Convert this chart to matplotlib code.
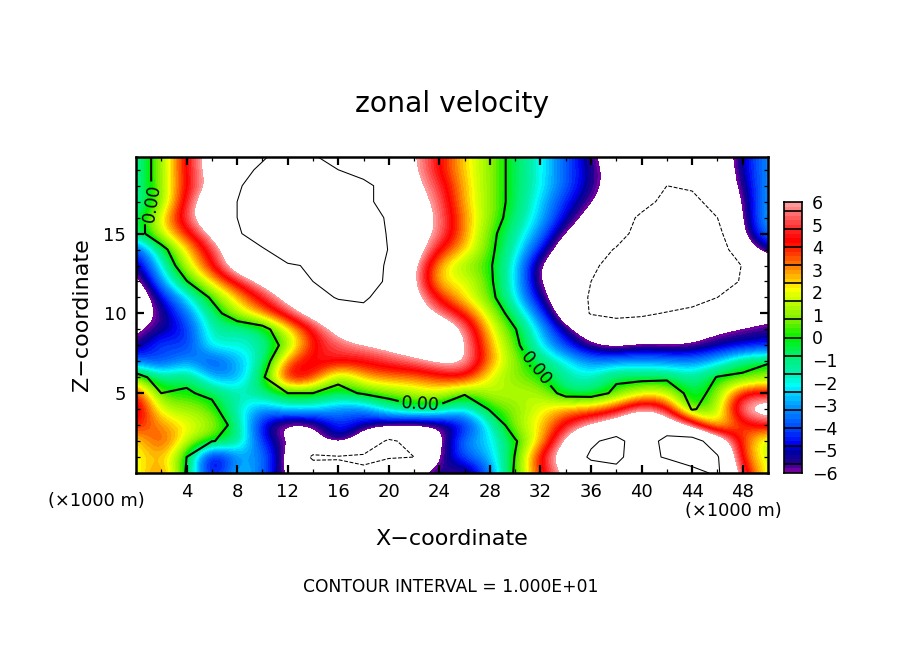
import numpy as np
import matplotlib
matplotlib.use("Agg")
import matplotlib.pyplot as plt
from matplotlib.colors import LinearSegmentedColormap, Normalize

x_km = [0, 2, 4, 6, 8, 10, 12, 14, 16, 18, 20, 22, 24, 26, 28, 30, 32, 34, 36, 38, 40, 42, 44, 46, 48, 50]
z_km = list(range(21))

z00 = [1.6, 3.8, -0.2, -5.6, -2, -3.5, -6.5, -8, -8.5, -9.5, -8, -6.3, -5, -6.4, -3.5, 0.3, 4, 6.5, 8, 9, 7, 5, 9, 10.5, 5, 1.5]
z01 = [1.8, 3, 0, -6.4, -3, -3, -6.5, -10.5, -10.3, -10.5, -10.2, -10, -5.8, -3.8, -2.8, 0.1, 4.6, 7.5, 10.5, 10.8, 8, 10.6, 11.5, 10.3, 3.5, 1.5]
z02 = [2, 4.2, 1.6, 0.1, -0.7, -4.5, -6, -7, -4.5, -7.5, -10.5, -9, -6.5, -3, -2.5, -0.2, 2.4, 6.5, 9.5, 11, 8, 11, 11.5, 8, 3.7, 1]
z03 = [4.2, 3, 2.2, 1.4, -0.8, -5, -7, -6.5, -4, -5.2, -5.8, -6.5, -6.2, -4.8, -2, 1.3, 2.3, 4.6, 6.2, 7.5, 9, 8, 5.3, 1.5, 3.8, 4.6]
z04 = [5.5, 1.5, 1.2, 0.6, -1.8, -3.4, -2, -2.2, -3.3, -3.5, -1.5, -0.5, -0.8, -2.6, 0.2, 0.8, 2, 3, 3, 4, 6.3, 4.8, -0.2, 1, 6.5, 7.5]
z05 = [4.5, 0, 0.2, -0.4, -1.6, -1, 0, 0, -0.6, 0.2, 0.8, 1.3, 2, 0.3, 1.6, 1.5, 1.5, -0.8, -0.9, 0.4, 1.8, 2, -1, 0.8, 4.6, 4.5]
z06 = [1.2, -1.5, -0.4, -3, -3.2, -0.5, 5.3, 4.3, 0.5, 2.8, 3.2, 3.2, 3.8, 4.4, 1.8, 0.8, 0.2, -1.5, -1.9, -0.3, -0.6, -0.5, -1.5, 0.1, 0.2, 1]
z07 = [-3.5, -4.5, -2.8, -4.6, -2.8, -1.6, 3.6, 4.8, 4.6, 4.4, 5, 5.5, 6.5, 6.6, 3, 1, -0.8, -2, -3.3, -3.1, -3, -3.1, -3.3, -2.5, -0.5, -0.2]
z08 = [-5.8, -3.5, -4.7, -1.5, -2, -1.5, 0.8, 4.2, 5.2, 5.8, 6.5, 7.5, 8, 6.3, 2.8, 0.5, -2.2, -4.2, -6, -6.5, -5.8, -6.2, -6.1, -5.3, -5, -4.5]
z09 = [-6.5, -5.3, -4.6, -1.2, -1.6, -0.9, 2, 4.5, 6.7, 8.5, 9, 9, 8, 5.9, 2.2, 0.1, -2.6, -5.4, -7.2, -8.2, -8, -7.5, -7, -6.2, -5.8, -5.6]
z10 = [-7, -5.8, -3.5, -1, 1.5, 3, 5, 7, 8.5, 9, 8.5, 7.5, 5.7, 4, 1.5, -1, -3.8, -7.5, -10.2, -10.8, -10.5, -9.8, -9, -8.5, -7.5, -6.5]
z11 = [-8, -4.7, -2.3, 0.3, 2.6, 4.6, 6.7, 9, 10.2, 10.5, 8.5, 7, 4, 2.2, 0.6, -2.1, -5.2, -8, -10.3, -11.5, -11.8, -12, -11.5, -10, -8, -7]
z12 = [-7, -3, -0.1, 2.4, 4.6, 6.6, 8.5, 10, 11.5, 11.5, 9.5, 6.5, 2, 2.2, 0.3, -2.2, -6.2, -8, -10, -11.5, -12.5, -14, -14, -12.5, -9.5, -8]
z13 = [-5.7, -2, 1.6, 4.2, 7.5, 9, 9.5, 10.5, 12.5, 12, 9.5, 6.5, 2.5, 1, 0.2, -2.1, -6.3, -8, -9.5, -11, -13, -15, -15, -13, -9.8, -7.5]
z14 = [-4.5, -0.8, 2.4, 4.8, 8, 9.5, 13, 16, 17, 14, 9.8, 7.5, 4.2, 2.6, 0.4, -1.7, -4.5, -7.5, -8.8, -10.2, -12, -14, -14, -12, -7.5, -5]
z15 = [-1, 1.8, 3.9, 6.5, 9.3, 13, 17, 19, 18, 14, 9.5, 7.2, 5.7, 3, 0.5, -1.3, -3.3, -6.3, -7.5, -9, -11, -13, -13, -11, -6.2, -3]
z16 = [-1.2, 2.2, 5.3, 8, 10, 14, 18, 19, 18, 14, 9, 7.5, 5.7, 3, 1, -0.9, -2.6, -5, -6.8, -8.5, -10.5, -12, -12, -10, -6, -2.4]
z17 = [-1.7, 0.8, 4.8, 8, 10, 14, 17, 18, 16, 11, 8.5, 7, 5.5, 2.6, 1, -0.6, -2.4, -4.5, -5.8, -7.5, -9, -10.8, -11, -8.5, -6, -2.6]
z18 = [-1.5, 1, 4.4, 6.4, 9.5, 12, 14, 15, 14, 11, 8.5, 6.6, 5, 2.6, 1, -0.6, -2, -3.8, -5.4, -7, -8.8, -10, -9.5, -8, -5.5, -2.8]
z19 = [-1.5, 1, 4.5, 7, 9, 10.5, 12.5, 12, 10, 8.5, 7.8, 6.3, 4.3, 2.4, 1, -0.6, -2, -3.8, -5.3, -7, -8.5, -9.6, -9.2, -8, -5, -3]
z20 = [-1.5, 1, 4.5, 7, 8.5, 9.5, 11, 10, 8.5, 8, 7.5, 6.2, 4.4, 2.4, 1, -0.6, -2, -3.8, -5.6, -7.5, -8.5, -9, -8.5, -7.5, -5, -3]

velocity = np.array([z00, z01, z02, z03, z04, z05, z06, z07, z08, z09, z10,
                     z11, z12, z13, z14, z15, z16, z17, z18, z19, z20])

bar_ticks = [6, 5, 4, 3, 2, 1, 0, -1, -2, -3, -4, -5, -6]
x_ticks = [4, 8, 12, 16, 20, 24, 28, 32, 36, 40, 44, 48]
z_ticks = [5, 10, 15]
band_edges = [-5.6, -4.8, -4, -3.2, -2.4, -1.6, -0.8, 0, 0.8, 1.6, 2.4, 3.2, 4, 4.8, 5.6]

anchors = [(-6, "#7000a0"), (-5.6, "#200090"), (-5.2, "#0000a0"), (-4.8, "#0000f0"),
           (-4, "#0050ff"), (-3.2, "#0090ff"), (-2.4, "#00e0ff"), (-2.2, "#00ffff"),
           (-1.6, "#00f0b0"), (-0.8, "#00f070"), (0, "#00f000"), (0.8, "#80f000"),
           (1.6, "#c0ff00"), (2.2, "#ffff00"), (2.4, "#ffe000"), (2.8, "#ffb000"),
           (3.2, "#ff8000"), (4, "#ff2000"), (4.4, "#ff0000"), (4.8, "#ff2020"),
           (5.6, "#ff7070"), (6, "#ff9a9a")]
cmap = LinearSegmentedColormap.from_list(
    "zonal", [((v + 6) / 12, c) for v, c in anchors], N=60)
cmap.set_over("white")
cmap.set_under("white")
norm = Normalize(-6, 6)

W, H = 904, 654
fig = plt.figure(figsize=(W / 100, H / 100), dpi=100)
plt.rcParams["font.family"] = "DejaVu Sans"


def box(l, t, r, b):
    return [l / W, 1 - b / H, (r - l) / W, (b - t) / H]


ax = fig.add_axes(box(136, 157, 768, 473))
ax.imshow(velocity, origin="lower", extent=(-1, 51, -0.5, 20.5), aspect="auto",
          cmap=cmap, norm=norm, interpolation="bicubic", interpolation_stage="data")
ax.contour(x_km, z_km, velocity, levels=[-10], colors="k", linewidths=0.75, linestyles="--")
ax.contour(x_km, z_km, velocity, levels=[10], colors="k", linewidths=0.75, linestyles="-")
cs0 = ax.contour(x_km, z_km, velocity, levels=[0], colors="k", linewidths=1.5, linestyles="-")
ax.clabel(cs0, fmt="%.2f", fontsize=12.5, inline=True, inline_spacing=2,
          manual=[(1.0, 17.0), (22.5, 4.3), (31.7, 6.6)])
ax.set_xlim(0, 50)
ax.set_ylim(0, 19.8)
ax.set_xticks(x_ticks)
ax.set_yticks(z_ticks)
ax.set_xticks(np.arange(2, 50, 4), minor=True)
ax.set_yticks([v for v in range(1, 20) if v % 5], minor=True)
ax.tick_params(which="major", direction="in", length=6, width=1.6, top=True, right=True,
               labelsize=13, pad=7)
ax.tick_params(which="minor", direction="in", length=3, width=0.9, top=True, right=True)
for s in ax.spines.values():
    s.set_linewidth(1.8)
    s.set_zorder(10)

cax = fig.add_axes(box(784, 202, 802, 473))
ramp = np.linspace(-6, 6, 240).reshape(-1, 1)
cax.imshow(ramp, origin="lower", extent=(0, 1, -6, 6), aspect="auto", cmap=cmap, norm=norm,
           interpolation="nearest")
cax.hlines(band_edges, 0, 1, colors="k", linewidth=1.2)
cax.set_xticks([])
cax.yaxis.tick_right()
cax.set_yticks(bar_ticks)
cax.set_yticklabels([str(v).replace("-", "\u2212") for v in bar_ticks])
cax.tick_params(axis="y", length=0, pad=7, labelsize=12.5)
for t in cax.get_yticklabels():
    t.set_ha("left")
for s in cax.spines.values():
    s.set_linewidth(1.2)


def px_text(x, y, s, size, **kw):
    fig.text(x / W, 1 - y / H, s, fontsize=size, ha="center", va="center", **kw)


px_text(452, 104, "zonal velocity", 20.3)
px_text(452, 539, "X\u2212coordinate", 16)
px_text(82, 315, "Z\u2212coordinate", 16, rotation=90)
px_text(96, 501, "(\u00d71000 m)", 12.8)
px_text(733, 511, "(\u00d71000 m)", 12.8)
px_text(451, 587, "CONTOUR INTERVAL = 1.000E+01", 12.3)

fig.savefig("out.png", dpi=100)
